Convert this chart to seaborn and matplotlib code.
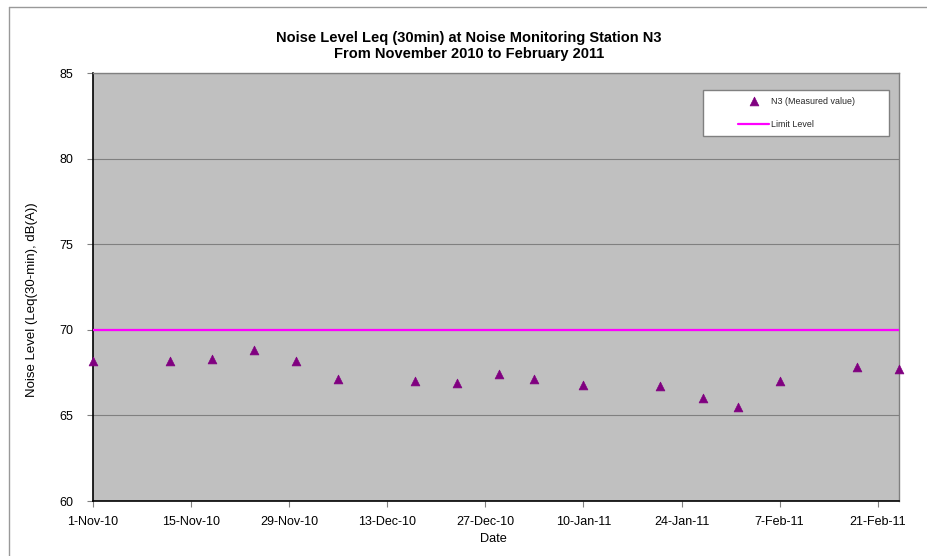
import matplotlib
matplotlib.use("Agg")
import matplotlib.pyplot as plt
import matplotlib.dates as mdates
from matplotlib.lines import Line2D
from matplotlib.patches import Rectangle
import pandas as pd
import seaborn as sns

# Measured Leq(30min) at station N3
sample_dates = [
    "2010-11-01", "2010-11-12", "2010-11-18", "2010-11-24", "2010-11-30",
    "2010-12-06", "2010-12-17", "2010-12-23", "2010-12-29", "2011-01-03",
    "2011-01-10", "2011-01-21", "2011-01-27", "2011-02-01", "2011-02-07",
    "2011-02-18", "2011-02-24",
]
n3_levels = [68.2, 68.2, 68.3, 68.8, 68.2, 67.1, 67.0, 66.9, 67.4, 67.1,
             66.8, 66.7, 66.0, 65.5, 67.0, 67.8, 67.7]

# Limit level across the monitoring period
limit_dates = ["2010-11-01", "2011-02-24"]
limit_levels = [70, 70]

x_tick_dates = ["2010-11-01", "2010-11-15", "2010-11-29", "2010-12-13",
                "2010-12-27", "2011-01-10", "2011-01-24", "2011-02-07",
                "2011-02-21"]
y_ticks = [60, 65, 70, 75, 80, 85]

sns.set_theme(style="white")
plt.rcParams["font.family"] = ["Liberation Sans", "DejaVu Sans"]

W, H = 928, 556
fig = plt.figure(figsize=(W / 100, H / 100), dpi=100)
ax = fig.add_axes([93 / W, 1 - 501 / H, (898.7 - 93) / W, (501 - 73) / H])
ax.set_facecolor("#C0C0C0")

measured = pd.DataFrame({"Date": pd.to_datetime(sample_dates), "Level": n3_levels})
limit = pd.DataFrame({"Date": pd.to_datetime(limit_dates), "Level": limit_levels})

sns.lineplot(data=limit, x="Date", y="Level", color="#FF00FF", linewidth=1.6,
             ax=ax, label="Limit Level", zorder=3)
sns.scatterplot(data=measured, x="Date", y="Level", marker="^", s=40,
                color="#800080", edgecolor="#800080", linewidth=0.5,
                ax=ax, label="N3 (Measured value)", zorder=4, clip_on=False)

ax.set_xlim(pd.Timestamp(limit_dates[0]), pd.Timestamp(limit_dates[-1]))
ax.set_ylim(y_ticks[0], y_ticks[-1])
ax.set_yticks(y_ticks)
ax.set_xticks(pd.to_datetime(x_tick_dates))
ax.xaxis.set_major_formatter(mdates.DateFormatter("%-d-%b-%y"))

ax.yaxis.grid(True, color="#808080", linewidth=0.8)
ax.xaxis.grid(False)
ax.set_axisbelow(True)

for side in ("left", "bottom"):
    ax.spines[side].set_color("black")
    ax.spines[side].set_linewidth(1.2)
for side in ("top", "right"):
    ax.spines[side].set_color("#808080")
    ax.spines[side].set_linewidth(1.0)

ax.tick_params(axis="both", which="major", bottom=True, left=True,
               direction="out", length=4, width=0.8, color="#808080",
               labelsize=9, labelcolor="black")
ax.tick_params(axis="x", pad=7)
ax.tick_params(axis="y", pad=10)

ax.set_xlabel("Date", fontsize=9.2, color="black")
ax.xaxis.set_label_coords(0.497, -0.075)
ax.set_ylabel("Noise Level (Leq(30-min), dB(A))", fontsize=9.5, color="black")
ax.yaxis.set_label_coords(-0.068, 0.47)

fig.text(469 / W, 1 - 46 / H,
         "Noise Level Leq (30min) at Noise Monitoring Station N3\n"
         "From November 2010 to February 2011",
         ha="center", va="center", fontsize=10.5, fontweight="bold",
         linespacing=1.12, color="black")

# Legend box and entries
handles, labels = ax.get_legend_handles_labels()
if ax.get_legend() is not None:
    ax.get_legend().remove()
order = [labels.index("N3 (Measured value)"), labels.index("Limit Level")]
fig.add_artist(Rectangle((703 / W, 1 - 136 / H), 186 / W, 46 / H,
                         transform=fig.transFigure, facecolor="white",
                         edgecolor="#808080", linewidth=1.0, zorder=4))
fig.legend([handles[i] for i in order], [labels[i] for i in order],
           loc="upper left", bbox_to_anchor=(738 / W, 1 - 96.5 / H),
           bbox_transform=fig.transFigure, frameon=False, fontsize=6.4,
           borderpad=0, borderaxespad=0, handlelength=3.5,
           handletextpad=0.25, labelspacing=1.65, scatterpoints=1)

# Chart-area border
fig.add_artist(Line2D([9 / W, 9 / W], [0, 1 - 7 / H], color="#999999",
                      linewidth=1.0, transform=fig.transFigure))
fig.add_artist(Line2D([9 / W, 1], [1 - 7 / H, 1 - 7 / H], color="#999999",
                      linewidth=1.0, transform=fig.transFigure))

fig.savefig("out.png", dpi=100)
